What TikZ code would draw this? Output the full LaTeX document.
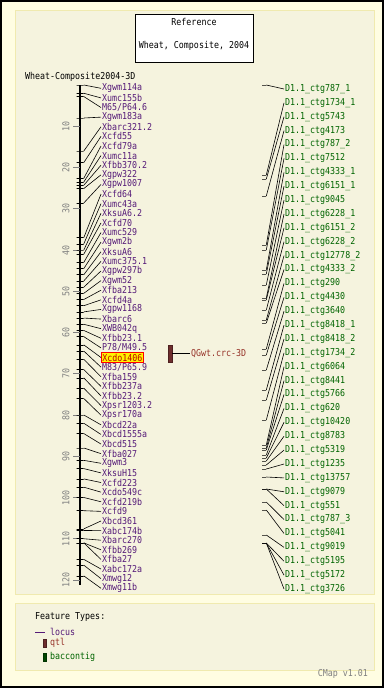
\documentclass[tikz,border=0pt]{standalone}
\usepackage{fontspec}
\setmonofont[FakeStretch=0.875]{DejaVu Sans Mono}

\definecolor{pagebg}{RGB}{255,253,226}
\definecolor{panelbg}{RGB}{245,243,222}
\definecolor{panelrim}{RGB}{240,234,175}
\definecolor{locuscol}{RGB}{85,26,120}
\definecolor{ctgcol}{RGB}{0,100,0}
\definecolor{qtlcol}{RGB}{110,45,45}
\definecolor{qtltext}{RGB}{150,50,40}

\tikzset{
  locus/.style={anchor=west, inner sep=1pt, text=locuscol},
  hilite/.style={fill=yellow, draw=red, text=red!75!black, line width=0.8pt},
  ctg/.style={anchor=west, inner sep=1pt, text=ctgcol},
  tickmark/.style={draw, minimum width=7pt, minimum height=0pt, inner sep=0pt, line width=0.6pt},
  ctgmark/.style={draw, minimum width=4pt, minimum height=0pt, inner sep=0pt, line width=0.6pt},
  conn/.style={line width=0.6pt},
  panel/.style={fill=panelbg, draw=panelrim, line width=1pt}
}

\begin{document}
\begin{tikzpicture}[x=1pt, y=-1pt, font=\ttfamily\fontsize{9.5}{10}\selectfont]

  \useasboundingbox (0,0) rectangle (384,688);

  % Page and panels
  \draw[fill=pagebg, line width=2pt] (1,1) rectangle (383,687);
  \draw[panel] (15,10) rectangle (374,594);
  \draw[panel] (15,603) rectangle (374,670);

  % Title box
  \draw[fill=white, line width=0.8pt] (135,14) rectangle (253,62);
  \node (reftitle) at (194,22) {Reference};
  \node (refname) at (194,46) {Wheat, Composite, 2004};

  % Map name
  \node[anchor=west, inner sep=0pt] (mapname) at (25,77) {Wheat-Composite2004-3D};

  % Axis
  \draw[line width=2pt] (80,85) -- (80,585);

  % Scale marks
  \foreach \cm in {10,20,...,120} {
    \pgfmathsetmacro\y{85+4.125*\cm}
    \draw[gray, line width=0.6pt] (73,\y) -- (80,\y);
    \node[gray, rotate=90] (cm\cm) at (66,\y) {\cm};
  }

  % Loci
  \foreach \cm/\txt [count=\i] in {0/Xgwm114a, 2/Xumc155b, 2.8/{M65/P64.6},
      8/Xgwm183a, 16/Xbarc321.2, 18.8/Xcfd55, 22.6/Xcfd79a, 23.5/Xumc11a,
      24.3/Xfbb370.2, 25.1/Xgpw322, 28.6/Xgpw1007, 37/Xcfd64, 38.5/Xumc43a,
      40/XksuA6.2, 41/Xcfd70, 43/Xumc529, 44.5/Xgwm2b, 46/XksuA6,
      47.5/Xumc375.1, 49/Xgpw297b, 50.5/Xgwm52, 52/Xfba213, 53.5/Xcfd4a,
      55/Xgpw1168, 56.5/Xbarc6, 58/XWB042q, 59.5/Xfbb23.1, 61/{P78/M49.5},
      63/Xcdo1406, 64.5/{M83/P65.9}, 66.5/Xfba159, 69/Xfbb237a, 71/Xfbb23.2,
      73.5/Xpsr1203.2, 76/Xpsr170a, 80/Xbcd22a, 82/Xbcd1555a, 84.5/Xbcd515,
      88/Xfba027, 91/Xgwm3, 93/XksuH15, 95.5/Xcfd223, 97.5/Xcdo549c,
      100/Xcfd219b, 103.2/Xcfd9, 107.6/Xbcd361, 108/Xabc174b, 110/Xbarc270,
      111/Xfbb269, 111/Xfba27, 115/Xabc172a, 116.4/Xmwg12, 119/Xmwg11b} {
    \pgfmathsetmacro\yt{85+4.125*\cm}
    \pgfmathsetmacro\yl{88.3+9.615*(\i-1)}
    \ifnum\i=29 \tikzset{now/.style={hilite}}\else\tikzset{now/.style={}}\fi
    \node[tickmark] (t\i) at (80,\yt) {};
    \node[locus, now] (l\i) at (101,\yl) {\txt};
    \draw[conn] (t\i.east) -- (l\i.west);
  }

  % QTL
  \node[fill=qtlcol, draw=qtlcol!70!black, minimum width=4pt, minimum height=17pt,
    inner sep=0pt] (qgwt) at (170,353.5) {};
  \node[anchor=west, inner sep=1pt, text=qtltext] (qgwtlbl) at (190,353.5) {QGwt.crc-3D};
  \draw[conn] (qgwt.east) -- (qgwtlbl.west);

  % BAC contigs
  \foreach \yf/\sfx [count=\j] in {85/787\_1, 175/1734\_1, 179/5743, 196/4173,
      245/787\_2, 250/7512, 270/4333\_1, 274/6151\_1, 285/9045, 298/6228\_1,
      300/6151\_2, 310/6228\_2, 320/12778\_2, 323/4333\_2, 349/290, 355/4430,
      370/3640, 390/8418\_1, 400/8418\_2, 420/1734\_2, 445/6064, 448/8441,
      450/5766, 455/620, 458/10420, 461/8783, 465/5319, 469/1235, 477/13757,
      489/9079, 489/551, 502/787\_3, 510/5041, 535/9019, 543/5195, 543/5172,
      543/3726} {
    \pgfmathsetmacro\yl{89+13.889*(\j-1)}
    \node[ctgmark] (f\j) at (264,\yf) {};
    \node[ctg] (c\j) at (284,\yl) {D1.1\_ctg\sfx};
    \draw[conn] (f\j.east) -- (c\j.west);
  }

  % Legend
  \node[anchor=west, inner sep=0pt] (legtitle) at (35,617) {Feature Types:};
  \draw[locuscol, line width=0.8pt] (35,632) -- (45,632);
  \node[anchor=west, inner sep=0pt, text=locuscol] (leglocus) at (50,632) {locus};
  \draw[fill=qtlcol, draw=qtlcol!70!black] (43,639) rectangle (46,647);
  \node[anchor=west, inner sep=0pt, text=qtltext] (legqtl) at (50,643) {qtl};
  \draw[fill=ctgcol!70!black, draw=ctgcol!50!black] (43,653) rectangle (46,661);
  \node[anchor=west, inner sep=0pt, text=ctgcol] (legctg) at (50,657) {baccontig};

  % Version
  \node[anchor=east, inner sep=0pt, text=gray] (version) at (368,674) {CMap v1.01};

\end{tikzpicture}
\end{document}
